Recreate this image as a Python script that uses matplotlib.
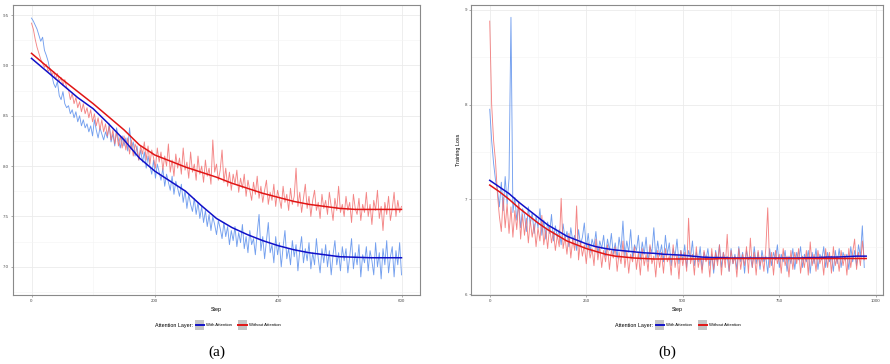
import numpy as np
import matplotlib
matplotlib.use("Agg")
import matplotlib.pyplot as plt
from matplotlib.lines import Line2D
from matplotlib.patches import Rectangle
from matplotlib.ticker import MultipleLocator

plt.rcParams['font.family'] = ['Liberation Sans', 'DejaVu Sans']

# ---- panel (a): raw loss, one value every 3 steps ----
a_blue = [9.47, 9.44, 9.40, 9.36, 9.30, 9.24, 9.28, 9.15, 9.10, 9.04,
          8.95, 8.90, 8.82, 8.78, 8.84, 8.70, 8.66, 8.74, 8.62, 8.58,
          8.60, 8.52, 8.56, 8.48, 8.54, 8.44, 8.50, 8.40, 8.46, 8.38,
          8.42, 8.34, 8.40, 8.30, 8.46, 8.36, 8.28, 8.38, 8.32, 8.26,
          8.34, 8.28, 8.42, 8.24, 8.32, 8.20, 8.38, 8.26, 8.18, 8.30,
          8.20, 8.28, 8.15, 8.38, 8.18, 8.24, 8.10, 8.20, 8.06, 8.16,
          8.04, 8.14, 7.98, 8.10, 8.00, 7.92, 8.06, 7.88, 8.02, 7.94,
          7.86, 7.98, 7.80, 7.92, 7.84, 7.76, 7.90, 7.72, 7.85, 7.78,
          7.70, 7.82, 7.64, 7.76, 7.58, 7.72, 7.62, 7.55, 7.68, 7.52,
          7.64, 7.48, 7.60, 7.44, 7.56, 7.40, 7.52, 7.36, 7.50, 7.42,
          7.32, 7.46, 7.38, 7.28, 7.44, 7.30, 7.40, 7.22, 7.36, 7.26,
          7.40, 7.20, 7.34, 7.24, 7.42, 7.18, 7.30, 7.14, 7.36, 7.22,
          7.28, 7.12, 7.34, 7.52, 7.16, 7.30, 7.08, 7.26, 7.44, 7.14,
          7.22, 7.04, 7.30, 7.12, 7.24, 7.00, 7.20, 7.36, 7.08, 7.18,
          7.02, 7.26, 7.10, 7.22, 6.96, 7.16, 7.30, 7.04, 7.18, 7.06,
          7.24, 6.98, 7.14, 7.02, 7.28, 7.08, 6.94, 7.18, 7.04, 7.22,
          7.00, 7.16, 6.92, 7.12, 7.26, 7.02, 7.14, 6.96, 7.20, 7.06,
          7.18, 6.94, 7.10, 7.28, 6.98, 7.14, 7.02, 7.22, 6.90, 7.12,
          7.04, 7.20, 6.96, 7.16, 7.06, 6.92, 7.24, 7.00, 7.14, 6.88,
          7.18, 7.02, 7.26, 6.94, 7.10, 7.20, 6.90, 7.16, 7.02, 7.24,
          6.92]
a_red = [9.42, 9.36, 9.26, 9.18, 9.12, 9.06, 9.02, 8.98, 9.01, 8.94,
         8.97, 8.90, 8.94, 8.86, 8.92, 8.84, 8.88, 8.80, 8.86, 8.78,
         8.76, 8.66, 8.72, 8.62, 8.68, 8.58, 8.64, 8.54, 8.62, 8.52,
         8.58, 8.48, 8.56, 8.44, 8.52, 8.40, 8.48, 8.36, 8.46, 8.34,
         8.42, 8.30, 8.40, 8.26, 8.36, 8.22, 8.34, 8.20, 8.30, 8.18,
         8.30, 8.16, 8.28, 8.12, 8.26, 8.10, 8.22, 8.16, 8.06, 8.20,
         8.12, 8.24, 8.06, 8.20, 8.02, 8.16, 8.08, 7.98, 8.18, 8.04,
         8.14, 7.96, 8.10, 8.00, 8.22, 7.94, 8.06, 7.90, 8.12, 7.98,
         8.08, 7.92, 8.18, 7.96, 8.04, 7.88, 8.14, 7.94, 8.02, 7.86,
         8.10, 7.92, 8.00, 7.84, 8.06, 7.90, 7.98, 7.82, 8.26, 7.94,
         8.02, 7.86, 7.96, 8.16, 7.84, 7.98, 7.80, 7.94, 7.76, 7.92,
         7.82, 7.96, 7.74, 7.88, 7.78, 7.92, 7.70, 7.86, 7.76, 7.66,
         7.84, 7.72, 7.90, 7.68, 7.80, 7.64, 7.76, 7.86, 7.62, 7.74,
         7.66, 7.82, 7.60, 7.76, 7.68, 7.58, 7.80, 7.64, 7.72, 7.56,
         7.78, 7.62, 7.70, 7.98, 7.60, 7.74, 7.54, 7.68, 7.82, 7.58,
         7.70, 7.50, 7.66, 7.76, 7.56, 7.64, 7.48, 7.72, 7.58, 7.66,
         7.52, 7.74, 7.60, 7.46, 7.68, 7.56, 7.80, 7.54, 7.62, 7.50,
         7.70, 7.56, 7.64, 7.44, 7.72, 7.58, 7.52, 7.68, 7.46, 7.62,
         7.54, 7.74, 7.50, 7.62, 7.42, 7.66, 7.56, 7.76, 7.48, 7.60,
         7.36, 7.64, 7.52, 7.70, 7.46, 7.58, 7.74, 7.50, 7.66, 7.54,
         7.60]
# smoothed curves, one value every 25 steps
a_fit_blue = [9.07, 8.94, 8.81, 8.68, 8.57, 8.42, 8.26, 8.08, 7.95, 7.85,
              7.75, 7.61, 7.48, 7.39, 7.32, 7.26, 7.21, 7.17, 7.14, 7.12,
              7.10, 7.095, 7.09, 7.09, 7.09]
a_fit_red = [9.12, 8.99, 8.86, 8.74, 8.62, 8.49, 8.36, 8.21, 8.11, 8.05,
             7.99, 7.94, 7.89, 7.83, 7.78, 7.73, 7.69, 7.65, 7.62, 7.60,
             7.58, 7.57, 7.57, 7.57, 7.57]

# ---- panel (b): raw loss, one value every 5 steps ----
b_blue = [7.95, 7.62, 7.38, 7.20, 7.10, 6.92, 7.18, 6.88, 7.24, 6.95,
          7.22, 8.92, 6.86, 7.02, 6.78, 6.96, 6.70, 6.90, 6.84, 6.66,
          6.92, 6.74, 6.86, 6.64, 6.82, 6.70, 6.90, 6.62, 6.78, 6.58,
          6.76, 6.64, 6.84, 6.56, 6.72, 6.60, 6.68, 6.52, 6.74, 6.58,
          6.66, 6.50, 6.70, 6.56, 6.62, 6.46, 6.68, 6.52, 6.60, 6.75,
          6.48, 6.64, 6.44, 6.58, 6.50, 6.66, 6.42, 6.56, 6.48, 6.62,
          6.40, 6.58, 6.46, 6.64, 6.42, 6.54, 6.38, 6.60, 6.46, 6.77,
          6.40, 6.56, 6.44, 6.68, 6.38, 6.52, 6.46, 6.62, 6.36, 6.55,
          6.42, 6.60, 6.34, 6.50, 6.44, 6.70, 6.38, 6.56, 6.40, 6.52,
          6.34, 6.62, 6.42, 6.54, 6.30, 6.48, 6.40, 6.58, 6.32, 6.46,
          6.36, 6.52, 6.28, 6.46, 6.38, 6.56, 6.30, 6.44, 6.34, 6.50,
          6.26, 6.44, 6.36, 6.48, 6.30, 6.42, 6.22, 6.46, 6.34, 6.52,
          6.28, 6.44, 6.36, 6.40, 6.24, 6.48, 6.32, 6.42, 6.26, 6.50,
          6.34, 6.44, 6.22, 6.46, 6.36, 6.40, 6.28, 6.50, 6.32, 6.44,
          6.26, 6.46, 6.34, 6.40, 6.22, 6.48, 6.30, 6.44, 6.36, 6.52,
          6.28, 6.42, 6.34, 6.46, 6.24, 6.40, 6.32, 6.48, 6.26, 6.44,
          6.36, 6.50, 6.28, 6.42, 6.34, 6.46, 6.22, 6.44, 6.32, 6.48,
          6.26, 6.42, 6.36, 6.50, 6.28, 6.44, 6.34, 6.40, 6.24, 6.46,
          6.32, 6.48, 6.28, 6.44, 6.36, 6.42, 6.26, 6.50, 6.34, 6.46,
          6.30, 6.52, 6.40, 6.72, 6.28]
b_red = [8.88, 8.00, 7.62, 7.40, 7.05, 6.82, 6.66, 7.02, 6.70, 6.95,
         6.64, 6.92, 6.60, 6.88, 6.68, 6.98, 6.58, 6.84, 6.62, 6.80,
         6.54, 6.78, 6.60, 6.74, 6.50, 6.70, 6.56, 6.83, 6.52, 6.68,
         6.48, 6.72, 6.54, 6.66, 6.46, 6.62, 6.50, 7.01, 6.48, 6.60,
         6.42, 6.64, 6.38, 6.58, 6.46, 6.93, 6.36, 6.56, 6.40, 6.52,
         6.32, 6.54, 6.38, 6.48, 6.30, 6.58, 6.36, 6.50, 6.28, 6.46,
         6.34, 6.52, 6.26, 6.46, 6.38, 6.50, 6.24, 6.44, 6.32, 6.56,
         6.28, 6.46, 6.22, 6.42, 6.34, 6.50, 6.26, 6.44, 6.20, 6.48,
         6.30, 6.42, 6.24, 6.52, 6.32, 6.40, 6.18, 6.46, 6.28, 6.44,
         6.22, 6.48, 6.34, 6.40, 6.20, 6.52, 6.28, 6.42, 6.16, 6.46,
         6.30, 6.44, 6.24, 6.80, 6.32, 6.42, 6.20, 6.50, 6.28, 6.40,
         6.22, 6.46, 6.34, 6.40, 6.18, 6.48, 6.26, 6.44, 6.30, 6.52,
         6.20, 6.44, 6.28, 6.63, 6.24, 6.46, 6.32, 6.40, 6.18, 6.48,
         6.26, 6.42, 6.30, 6.50, 6.22, 6.59, 6.28, 6.44, 6.20, 6.46,
         6.30, 6.40, 6.24, 6.48, 6.91, 6.28, 6.44, 6.20, 6.46, 6.32,
         6.42, 6.22, 6.48, 6.30, 6.40, 6.18, 6.46, 6.26, 6.44, 6.32,
         6.48, 6.22, 6.40, 6.28, 6.46, 6.20, 6.55, 6.30, 6.42, 6.24,
         6.46, 6.32, 6.40, 6.20, 6.48, 6.28, 6.44, 6.22, 6.50, 6.30,
         6.40, 6.24, 6.46, 6.30, 6.42, 6.20, 6.48, 6.28, 6.44, 6.58,
         6.26, 6.44, 6.30, 6.56, 6.36]
# smoothed curves, one value every 25 steps (0..975)
b_fit_blue = [7.20, 7.13, 7.06, 6.97, 6.89, 6.81, 6.73, 6.67, 6.61, 6.57,
              6.53, 6.50, 6.48, 6.465, 6.455, 6.445, 6.435, 6.43, 6.42, 6.415,
              6.41, 6.40, 6.39, 6.385, 6.385, 6.38, 6.38, 6.38, 6.38, 6.38,
              6.38, 6.38, 6.38, 6.385, 6.385, 6.39, 6.39, 6.395, 6.40, 6.40]
b_fit_red = [7.15, 7.08, 7.00, 6.91, 6.83, 6.75, 6.68, 6.62, 6.56, 6.52,
             6.48, 6.45, 6.42, 6.40, 6.39, 6.38, 6.375, 6.37, 6.37, 6.37,
             6.37, 6.37, 6.37, 6.37, 6.375, 6.375, 6.375, 6.375, 6.375, 6.375,
             6.375, 6.375, 6.375, 6.375, 6.375, 6.375, 6.375, 6.375, 6.375, 6.375]

raw_blue = "#6495ED"
raw_red = "#F27070"
fit_blue = "#1010C8"
fit_red = "#E01515"
grid_major = "#EBEBEB"
grid_minor = "#F4F4F4"

W, H = 890, 364
fig = plt.figure(figsize=(W / 100, H / 100), dpi=100)


def px_box(x0, y0, x1, y1):
    return [x0 / W, 1 - y1 / H, (x1 - x0) / W, (y1 - y0) / H]


def style(ax, xlim, ylim, xmaj, xmin, ymaj, ymin):
    ax.set_xlim(*xlim)
    ax.set_ylim(*ylim)
    ax.xaxis.set_major_locator(MultipleLocator(xmaj))
    ax.xaxis.set_minor_locator(MultipleLocator(xmin))
    ax.yaxis.set_major_locator(MultipleLocator(ymaj))
    ax.yaxis.set_minor_locator(MultipleLocator(ymin))
    ax.grid(which="major", color=grid_major, lw=0.6)
    ax.grid(which="minor", color=grid_minor, lw=0.4)
    ax.set_axisbelow(True)
    for s in ax.spines.values():
        s.set_color("#8A8A8A")
        s.set_linewidth(0.8)
    ax.tick_params(which="major", length=1.5, width=0.5, color="#8A8A8A",
                   labelsize=3.2, labelcolor="#4D4D4D", pad=1.5)
    ax.tick_params(which="minor", length=0)
    ax.set_xlabel("Step", fontsize=3.9, labelpad=2.5)


def draw(ax, step_raw, blue, red, fit_step, fblue, fred):
    ax.plot(np.arange(len(blue)) * step_raw, blue, color=raw_blue, lw=0.65, alpha=0.9)
    ax.plot(np.arange(len(red)) * step_raw, red, color=raw_red, lw=0.65, alpha=0.85)
    ax.plot(np.arange(len(fblue)) * fit_step, fblue, color=fit_blue, lw=1.1)
    ax.plot(np.arange(len(fred)) * fit_step, fred, color=fit_red, lw=1.1)


def legend(x_key1, y=325):
    fig.text((x_key1 - 2) / W, 1 - y / H, "Attention Layer:", fontsize=3.9,
             ha="right", va="center")
    for k, (col, lab) in enumerate([(fit_blue, "With Attention"),
                                    (fit_red, "Without Attention")]):
        kx = x_key1 + 43 * k
        fig.add_artist(Rectangle((kx / W, 1 - (y + 5) / H), 9 / W, 10 / H,
                                 transform=fig.transFigure, facecolor="#C4C4C4",
                                 edgecolor="none"))
        fig.add_artist(Line2D([(kx + 0.5) / W, (kx + 8.5) / W], [1 - y / H, 1 - y / H],
                              transform=fig.transFigure, color=col, lw=1.4))
        fig.text((kx + 11) / W, 1 - y / H, lab, fontsize=3.1, ha="left", va="center")


ax1 = fig.add_axes(px_box(13, 5, 420, 295))
draw(ax1, 3, a_blue, a_red, 25, a_fit_blue, a_fit_red)
style(ax1, (-30, 630), (6.72, 9.60), 200, 100, 0.5, 0.25)

ax2 = fig.add_axes(px_box(471, 5, 883, 295))
draw(ax2, 5, b_blue, b_red, 25, b_fit_blue, b_fit_red)
style(ax2, (-48.5, 1018.5), (5.99, 9.05), 250, 125, 1, 0.5)
ax2.set_ylabel("Training Loss", fontsize=3.9, labelpad=2.5)

legend(195)
legend(655)

fig.text(217 / W, 1 - 352 / H, "(a)", fontsize=11, family="Liberation Serif",
         ha="center", va="center")
fig.text(667 / W, 1 - 352 / H, "(b)", fontsize=11, family="Liberation Serif",
         ha="center", va="center")

fig.savefig("out.png", dpi=100)
